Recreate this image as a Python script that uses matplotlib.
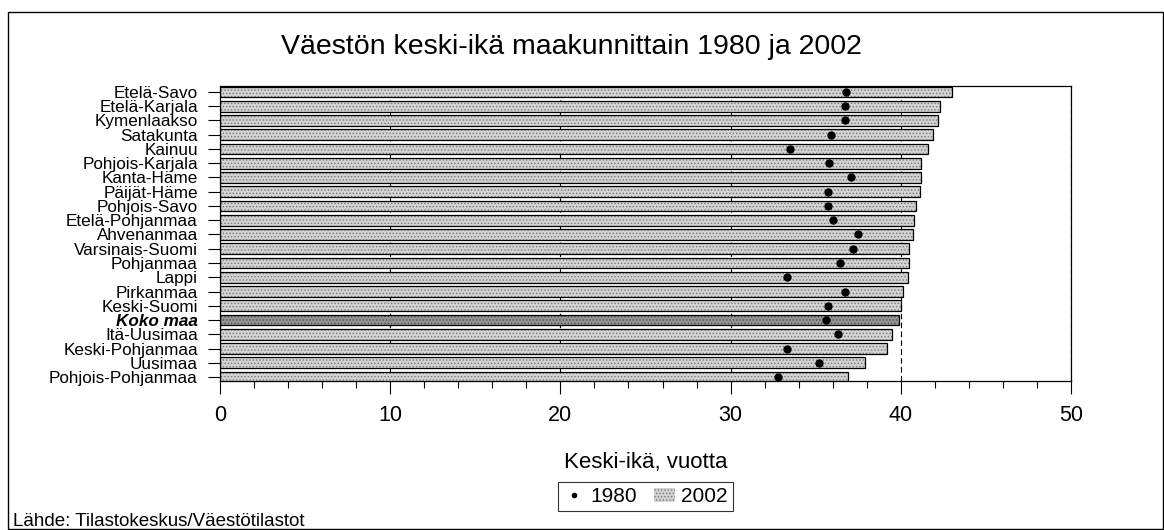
import matplotlib

matplotlib.use('Agg')
import matplotlib.pyplot as plt
from matplotlib.patches import Patch, Rectangle
from matplotlib.lines import Line2D
from matplotlib.ticker import MultipleLocator
import numpy as np

plt.rcParams['font.family'] = ['Liberation Sans', 'DejaVu Sans']
plt.rcParams['hatch.linewidth'] = 0.6

regions = ['Etelä-Savo', 'Etelä-Karjala', 'Kymenlaakso', 'Satakunta', 'Kainuu',
           'Pohjois-Karjala', 'Kanta-Häme', 'Päijät-Häme', 'Pohjois-Savo',
           'Etelä-Pohjanmaa', 'Ahvenanmaa', 'Varsinais-Suomi', 'Pohjanmaa', 'Lappi',
           'Pirkanmaa', 'Keski-Suomi', 'Koko maa', 'Itä-Uusimaa', 'Keski-Pohjanmaa',
           'Uusimaa', 'Pohjois-Pohjanmaa']
age_2002 = [43.0, 42.3, 42.2, 41.9, 41.6, 41.2, 41.2, 41.1, 40.9, 40.8, 40.7,
            40.5, 40.5, 40.4, 40.1, 40.0, 39.9, 39.5, 39.2, 37.9, 36.9]
age_1980 = [36.8, 36.7, 36.7, 35.9, 33.5, 35.8, 37.1, 35.7, 35.7, 36.0, 37.5,
            37.2, 36.4, 33.3, 36.7, 35.7, 35.6, 36.3, 33.3, 35.2, 32.8]
total_label = 'Koko maa'

fig = plt.figure(figsize=(11.64, 5.30), dpi=100)
ax = fig.add_axes([220 / 1164, 1 - 381 / 530, 851 / 1164, 295 / 530])

y = np.arange(len(regions))
ax.grid(axis='x', color='black', linewidth=0.8, linestyle=(0, (5, 3)), zorder=0)
ax.set_axisbelow(True)

for i, (name, val) in enumerate(zip(regions, age_2002)):
    is_total = name == total_label
    ax.barh(y[i], val, height=0.75,
            color='#959595' if is_total else '#d2d2d2',
            edgecolor='#4a4a4a' if is_total else '#7a7a7a',
            hatch='.....', linewidth=0, zorder=2)
    ax.barh(y[i], val, height=0.75, fill=False, edgecolor='black',
            linewidth=0.9, zorder=3)

ax.plot(age_1980, y, 'o', color='black', markersize=5, zorder=4)

ax.set_xlim(0, 50)
ax.set_ylim(len(regions) - 0.72, -0.42)
ax.xaxis.set_major_locator(MultipleLocator(10))
ax.xaxis.set_minor_locator(MultipleLocator(2))
ax.tick_params(axis='x', which='major', length=9, width=0.8, labelsize=15.5, pad=8)
ax.tick_params(axis='x', which='minor', length=5, width=0.8)
ax.set_yticks(y)
ax.set_yticklabels(regions)
ax.tick_params(axis='y', length=9, width=0.8, labelsize=12.3, pad=7)
for lbl in ax.get_yticklabels():
    if lbl.get_text() == total_label:
        lbl.set_fontweight('bold')
        lbl.set_fontstyle('italic')

for s in ax.spines.values():
    s.set_linewidth(0.9)
    s.set_color('black')

ax.set_xlabel('Keski-ikä, vuotta', fontsize=16, labelpad=19)
fig.text(0.4905, 0.911, 'Väestön keski-ikä maakunnittain 1980 ja 2002',
         ha='center', va='center', fontsize=20.5)

handles = [Line2D([], [], marker='o', color='black', linestyle='none', markersize=3),
           Patch(facecolor='#d2d2d2', edgecolor='#7a7a7a', hatch='.....', linewidth=0)]
leg = ax.legend(handles, ['1980', '2002'], loc='upper center',
                bbox_to_anchor=(0.5, -0.342), ncol=2, fontsize=15, frameon=True,
                fancybox=False, edgecolor='black', handlelength=1.0, handletextpad=0.3,
                columnspacing=0.8, borderpad=0.25, borderaxespad=0)
leg.get_frame().set_linewidth(0.8)

fig.text(13 / 1164, 1 - 521 / 530, 'Lähde: Tilastokeskus/Väestötilastot',
         ha='left', va='center', fontsize=13.5)

fig.patches.append(Rectangle((8 / 1164, 0.002), 1 - 9 / 1164, 1 - 12 / 530 - 0.002,
                             transform=fig.transFigure, fill=False,
                             edgecolor='black', linewidth=1.0))

fig.savefig('out.png', dpi=100)
plt.close(fig)
